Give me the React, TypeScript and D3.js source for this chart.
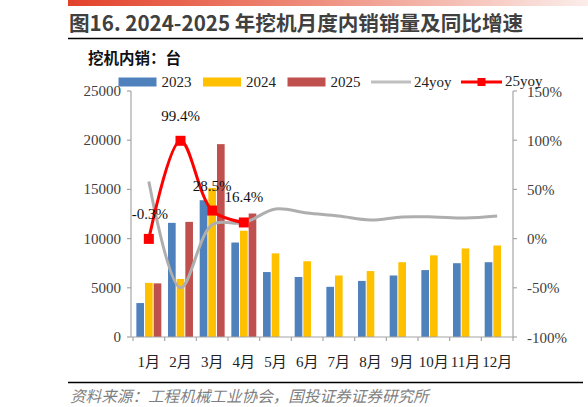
import React from "react";
import * as d3 from "d3";

// 挖机内销 (台)
const months = ["1月", "2月", "3月", "4月", "5月", "6月", "7月", "8月", "9月", "10月", "11月", "12月"];
const sales2023 = [3450, 11600, 13900, 9600, 6600, 6100, 5100, 5700, 6250, 6800, 7500, 7600];
const sales2024 = [5500, 5900, 15150, 10800, 8500, 7700, 6250, 6700, 7600, 8300, 9000, 9300];
const sales2025 = [5450, 11700, 19600, 12550];
const yoy24 = [58, -50, 14, 16, 30, 26, 23, 19, 22, 22, 21, 23];
const yoy25 = [-0.3, 99.4, 28.5, 16.4];
const leftTicks = [0, 5000, 10000, 15000, 20000, 25000];
const rightTicks = [-100, -50, 0, 50, 100, 150];
const seriesNames = ["2023", "2024", "2025"];

const W = 588;
const H = 407;
const serif = "'Liberation Serif', 'Times New Roman', 'Noto Sans CJK SC', serif";
const cjk = "'Noto Sans CJK SC', sans-serif";
const colors: Record<string, string> = { "2023": "#4F81BD", "2024": "#FFC000", "2025": "#C0504D" };
const grayLine = "#AEAEAE";
const axisGray = "#A6A6A6";

export default function App() {
  const x = d3.scaleBand<string>().domain(months).range([133, 513]).padding(0);
  const xs = d3.scaleBand<string>().domain(seriesNames).range([0, x.bandwidth()]).paddingOuter(0.33).paddingInner(0);
  const yL = d3.scaleLinear().domain([0, 25000]).range([337, 91]);
  const yR = d3.scaleLinear().domain([-100, 150]).range([337, 91]);
  const cx = (m: string) => (x(m) ?? 0) + x.bandwidth() / 2;

  const line = d3
    .line<number>()
    .x((_, i) => cx(months[i]))
    .y((d) => yR(d))
    .curve(d3.curveCatmullRom.alpha(0.5));

  const series: [string, number[]][] = [
    ["2023", sales2023],
    ["2024", sales2024],
    ["2025", sales2025],
  ];

  const boundaries = [...months.map((m) => x(m) ?? 0), x.range()[1]];

  return (
    <svg width={W} height={H} style={{ position: "absolute", left: 0, top: 0, background: "#fff" }}>
      <defs>
        <linearGradient id="topbar" x1="0" x2="1" y1="0" y2="0">
          <stop offset="0" stopColor="#E2412A" />
          <stop offset="0.45" stopColor="#EE8A78" />
          <stop offset="1" stopColor="#FBEDEA" />
        </linearGradient>
      </defs>
      <rect x={68} y={0} width={W - 68} height={6} fill="url(#topbar)" />
      <text x={69} y={31} fontFamily={cjk} fontWeight="bold" fontSize={20.6} fill="#404040">
        图16. 2024-2025 年挖机月度内销销量及同比增速
      </text>
      <line x1={68} x2={583} y1={38.5} y2={38.5} stroke="#000" strokeWidth={1.5} />

      <text x={88} y={64} fontFamily={cjk} fontWeight="bold" fontSize={15.5} fill="#111">
        挖机内销：台
      </text>

      {/* legend */}
      <g fontFamily={serif} fontSize={15} fill="#222">
        {seriesNames.map((s, i) => (
          <g key={s} transform={`translate(${118.5 + i * 84.5},0)`}>
            <rect x={0} y={77.5} width={38} height={9} fill={colors[s]} />
            <text x={43} y={86.5}>{s}</text>
          </g>
        ))}
        <line x1={371} x2={411} y1={82} y2={82} stroke="#BFBFBF" strokeWidth={3} />
        <text x={414} y={86.5}>24yoy</text>
        <line x1={461} x2={502} y1={82} y2={82} stroke="#FF0000" strokeWidth={3} />
        <rect x={477.5} y={78} width={8} height={8} fill="#FF0000" />
        <text x={505} y={86}>25yoy</text>
      </g>

      {/* bars */}
      {series.map(([name, vals]) =>
        vals.map((v, i) => (
          <rect
            key={name + i}
            x={(x(months[i]) ?? 0) + (xs(name) ?? 0) + 0.5}
            y={yL(v)}
            width={xs.bandwidth() - 1}
            height={yL(0) - yL(v)}
            fill={colors[name]}
          />
        ))
      )}

      {/* axes */}
      <g stroke={axisGray} strokeWidth={1.2} fill="none">
        <line x1={131} x2={131} y1={91} y2={337} />
        <line x1={513} x2={513} y1={91} y2={337} />
        <line x1={131} x2={513} y1={337} y2={337} />
        {leftTicks.map((t) => (
          <line key={"l" + t} x1={127} x2={131} y1={yL(t)} y2={yL(t)} />
        ))}
        {rightTicks.map((t) => (
          <line key={"r" + t} x1={513} x2={517} y1={yR(t)} y2={yR(t)} />
        ))}
        {boundaries.map((b, i) => (
          <line key={"x" + i} x1={b} x2={b} y1={337} y2={341} />
        ))}
      </g>
      <g fontFamily={serif} fontSize={15} fill="#404040">
        {leftTicks.map((t) => (
          <text key={t} x={121} y={yL(t) + 5} textAnchor="end">
            {t}
          </text>
        ))}
        {rightTicks.map((t) => (
          <text key={t} x={527} y={yR(t) + 5.5}>
            {t}%
          </text>
        ))}
        {months.map((m) => (
          <text key={m} x={cx(m)} y={367} textAnchor="middle" fill="#222">
            {m}
          </text>
        ))}
      </g>

      {/* yoy lines */}
      <path d={line(yoy24) ?? ""} fill="none" stroke={grayLine} strokeWidth={3} />
      <path d={line(yoy25) ?? ""} fill="none" stroke="#FF0000" strokeWidth={3} />
      {yoy25.map((v, i) => (
        <rect key={"m" + i} x={cx(months[i]) - 5} y={yR(v) - 5} width={10} height={10} fill="#FF0000" />
      ))}
      <g fontFamily={serif} fontSize={15} fill="#111" textAnchor="middle">
        {yoy25.map((v, i) => (
          <text key={"t" + i} x={cx(months[i]) + (i === 0 ? 1 : 0)} y={yR(v) - 20}>
            {v.toFixed(1)}%
          </text>
        ))}
      </g>

      <line x1={68} x2={583} y1={382.5} y2={382.5} stroke="#000" strokeWidth={1.5} />
      <text x={70} y={402} fontFamily={cjk} fontStyle="italic" fontSize={15.6} fill="#7F7F7F">
        资料来源：工程机械工业协会，国投证券证券研究所
      </text>
    </svg>
  );
}
